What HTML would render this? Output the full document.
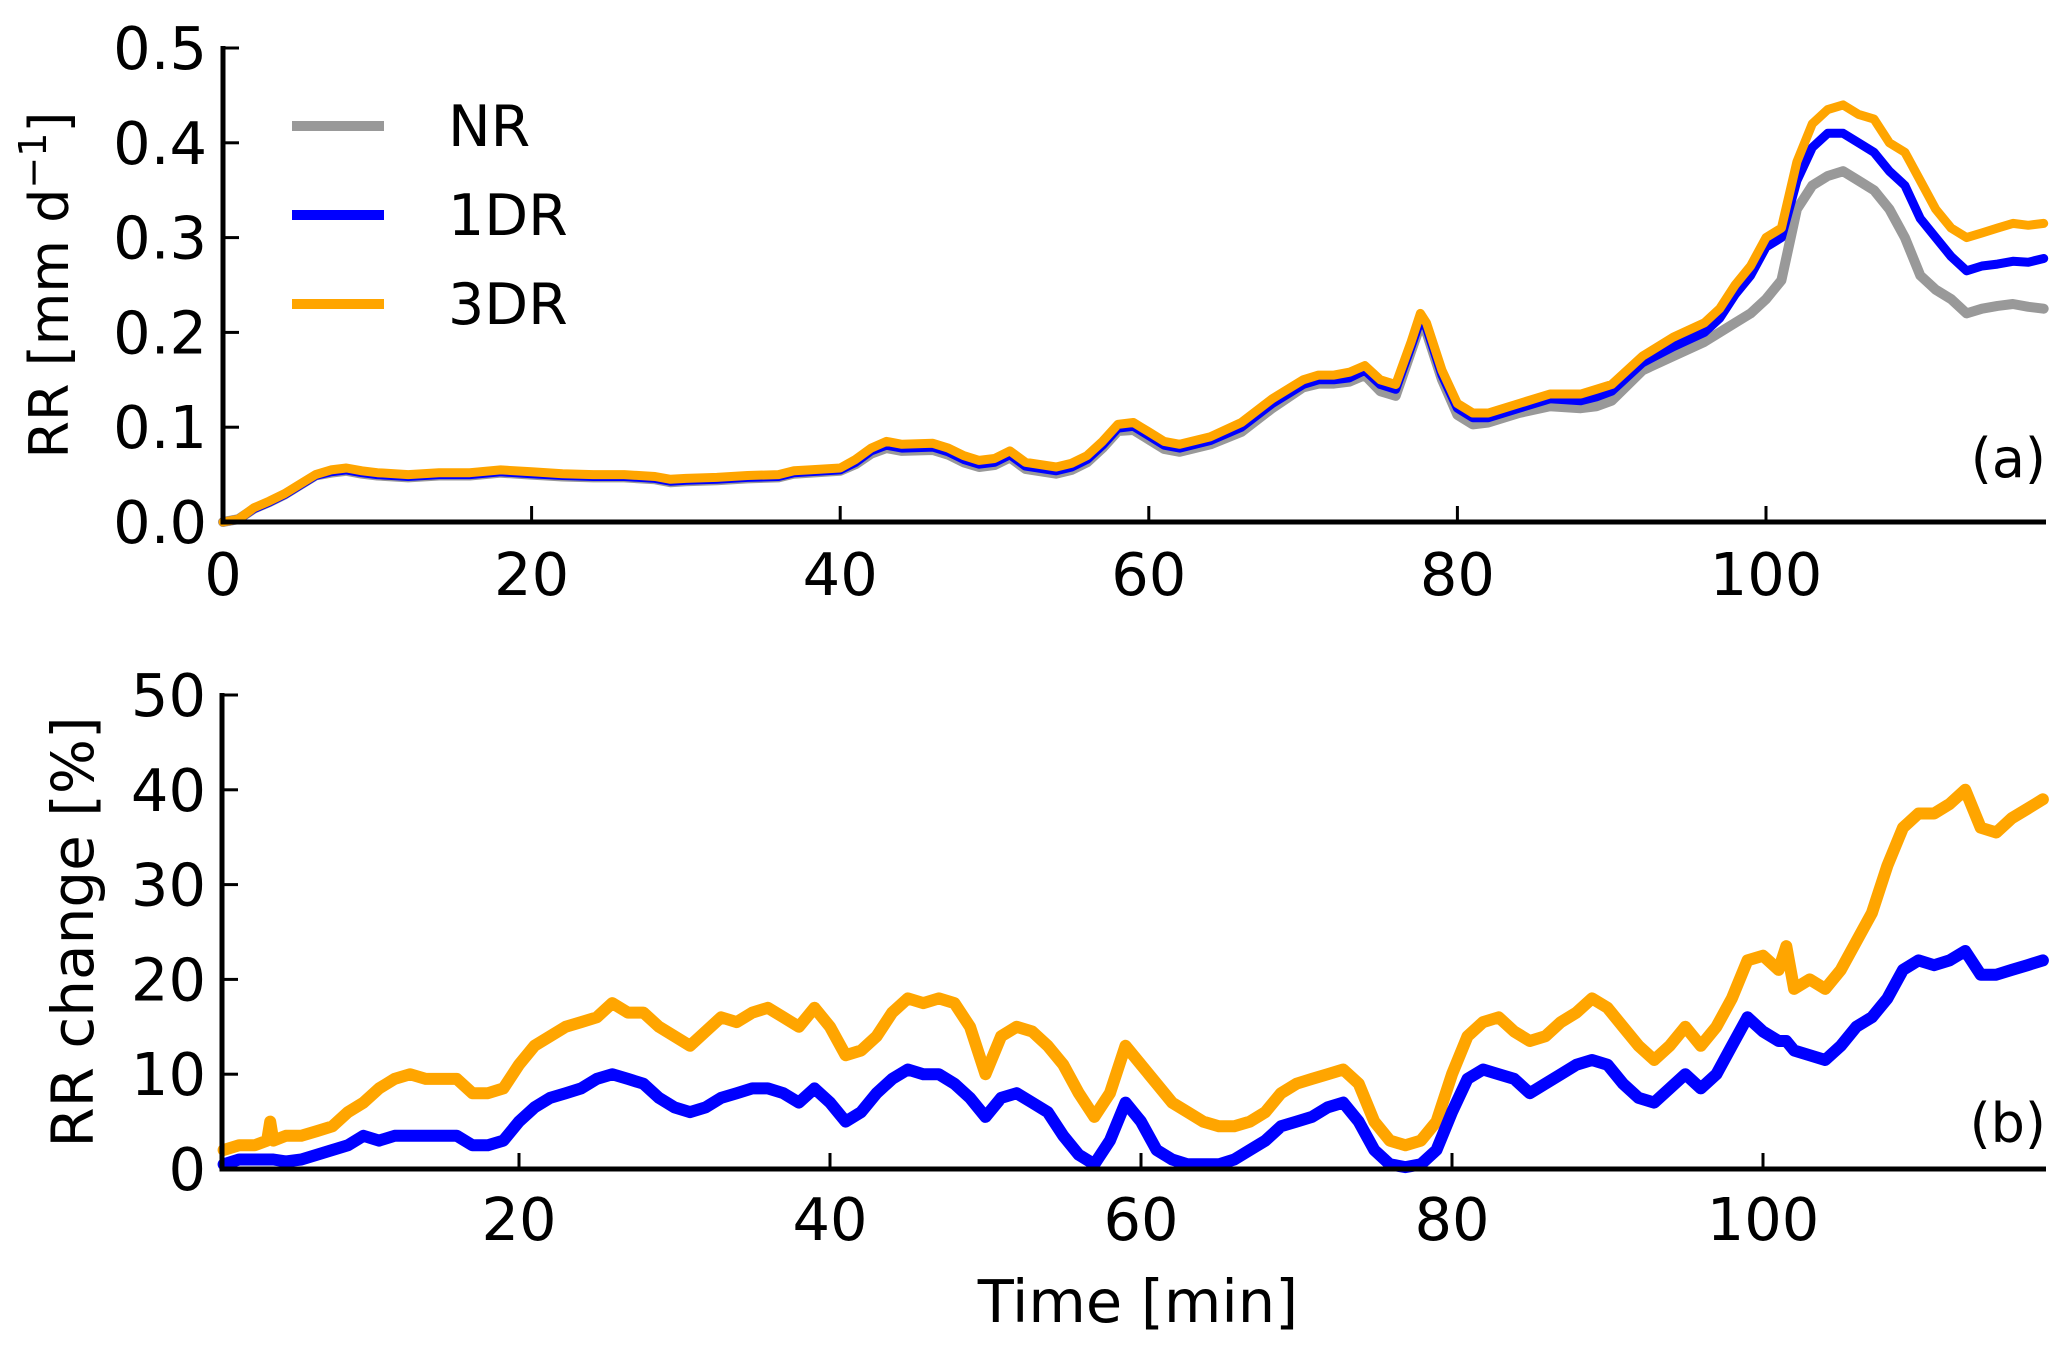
<!DOCTYPE html>
<html><head><meta charset="utf-8"><style>
html,body{margin:0;padding:0;background:#fff;}
svg{display:block;font-family:"DejaVu Sans","Liberation Sans",sans-serif;}
</style></head><body>
<svg id="fig" width="2067" height="1346" viewBox="0 0 2067 1346" xmlns="http://www.w3.org/2000/svg">
<g id="panelTop"></g>
<g id="panelBot"></g>
</svg>
<script>
// ---- Panel (a) data ----
const tA = [0,1,2,3,4,5,6,7,8,9,10,12,14,16,18,20,22,24,26,28,29,30,32,34,36,37,38,40,41,42,43,44,46,47,48,49,50,51,52,54,55,56,57,58,59,60,61,62,64,66,68,70,71,72,73,74,75,76,77,77.6,78,79,80,81,82,84,86,88,89,90,92,94,96,97,98,99,100,101,102,103,104,105,106,107,108,109,110,111,112,113,114,115,116,117,118];
const rr3DR = [0,0.003,0.015,0.022,0.03,0.04,0.05,0.055,0.057,0.054,0.052,0.05,0.052,0.052,0.055,0.053,0.051,0.05,0.05,0.048,0.045,0.046,0.047,0.049,0.05,0.054,0.055,0.057,0.066,0.078,0.085,0.082,0.083,0.078,0.07,0.065,0.067,0.075,0.063,0.058,0.062,0.07,0.085,0.103,0.105,0.095,0.085,0.082,0.09,0.105,0.13,0.15,0.155,0.155,0.158,0.165,0.15,0.145,0.19,0.22,0.21,0.16,0.125,0.115,0.115,0.125,0.135,0.135,0.14,0.145,0.175,0.195,0.21,0.225,0.25,0.27,0.3,0.31,0.38,0.42,0.435,0.44,0.43,0.425,0.4,0.39,0.36,0.33,0.31,0.3,0.305,0.31,0.315,0.313,0.315];
const rr1DR = [0,0.003,0.014,0.021,0.029,0.039,0.049,0.053,0.055,0.052,0.05,0.048,0.05,0.05,0.053,0.051,0.049,0.048,0.048,0.046,0.043,0.044,0.045,0.047,0.048,0.052,0.053,0.055,0.063,0.075,0.081,0.078,0.079,0.074,0.066,0.061,0.063,0.071,0.059,0.054,0.058,0.066,0.081,0.099,0.101,0.091,0.081,0.078,0.086,0.1,0.125,0.145,0.15,0.15,0.152,0.16,0.145,0.14,0.185,0.213,0.205,0.155,0.12,0.11,0.11,0.12,0.13,0.128,0.132,0.138,0.168,0.185,0.2,0.215,0.24,0.26,0.29,0.3,0.36,0.395,0.41,0.41,0.4,0.39,0.37,0.355,0.32,0.3,0.28,0.265,0.27,0.272,0.275,0.274,0.278];
const rrNR = [0,0.003,0.014,0.021,0.029,0.039,0.049,0.052,0.054,0.051,0.049,0.047,0.049,0.049,0.052,0.05,0.048,0.047,0.047,0.045,0.042,0.043,0.044,0.046,0.047,0.051,0.052,0.054,0.061,0.072,0.078,0.075,0.076,0.071,0.063,0.058,0.06,0.068,0.056,0.051,0.055,0.063,0.078,0.096,0.097,0.087,0.077,0.074,0.082,0.095,0.12,0.142,0.146,0.146,0.148,0.155,0.138,0.133,0.18,0.208,0.2,0.15,0.113,0.103,0.105,0.115,0.122,0.12,0.122,0.128,0.16,0.175,0.19,0.2,0.21,0.22,0.235,0.255,0.33,0.355,0.365,0.37,0.36,0.35,0.33,0.3,0.26,0.245,0.235,0.22,0.225,0.228,0.23,0.227,0.225];
const yTicksA = [0.0,0.1,0.2,0.3,0.4,0.5];
const xTicksA = [0,20,40,60,80,100];
// ---- Panel (b) data ----
const tB = [1,2,3,3.8,4,4.2,5,6,7,8,9,10,11,12,13,14,15,16,17,18,19,20,21,22,23,24,25,26,27,28,29,30,31,32,33,34,35,36,37,38,39,40,41,42,43,44,45,46,47,48,49,50,51,52,53,54,55,56,57,58,59,60,61,62,63,64,65,66,67,68,69,70,71,72,73,74,75,76,77,78,79,80,81,82,83,84,85,86,87,88,89,90,91,92,93,94,95,96,97,98,99,100,101,101.5,102,103,104,105,106,107,108,109,110,111,112,113,114,115,116,117,118];
const pct3DR = [2,2.5,2.5,3,5,3,3.5,3.5,4,4.5,6,7,8.5,9.5,10,9.5,9.5,9.5,8,8,8.5,11,13,14,15,15.5,16,17.5,16.5,16.5,15,14,13,14.5,16,15.5,16.5,17,16,15,17,15,12,12.5,14,16.5,18,17.5,18,17.5,15,10,14,15,14.5,13,11,8,5.5,8,13,11,9,7,6,5,4.5,4.5,5,6,8,9,9.5,10,10.5,9,5,3,2.5,3,5,10,14,15.5,16,14.5,13.5,14,15.5,16.5,18,17,15,13,11.5,13,15,13,15,18,22,22.5,21,23.5,19,20,19,21,24,27,32,36,37.5,37.5,38.5,40,36,35.5,37,38,39];
const pct1DR = [0.5,1,1,1,1,1,0.8,1,1.5,2,2.5,3.5,3,3.5,3.5,3.5,3.5,3.5,2.5,2.5,3,5,6.5,7.5,8,8.5,9.5,10,9.5,9,7.5,6.5,6,6.5,7.5,8,8.5,8.5,8,7,8.5,7,5,6,8,9.5,10.5,10,10,9,7.5,5.5,7.5,8,7,6,3.5,1.5,0.5,3,7,5,2,1,0.5,0.5,0.5,1,2,3,4.5,5,5.5,6.5,7,5,2,0.5,0.2,0.5,2,6,9.5,10.5,10,9.5,8,9,10,11,11.5,11,9,7.5,7,8.5,10,8.5,10,13,16,14.5,13.5,13.5,12.5,12,11.5,13,15,16,18,21,22,21.5,22,23,20.5,20.5,21,21.5,22];
const yTicksB = [0,10,20,30,40,50];
const xTicksB = [20,40,60,80,100];

const NS="http://www.w3.org/2000/svg";
function mk(parent,tag,attrs,text){const e=document.createElementNS(NS,tag);for(const k in attrs)e.setAttribute(k,attrs[k]);if(text!==undefined)e.textContent=text;parent.appendChild(e);return e;}
const xA=t=>223+t*15.43, yA=v=>522-v*(474/0.5);
const xB=t=>208+t*15.55, yB=v=>1169-v*(474/50);
const gTop=document.getElementById('panelTop'), gBot=document.getElementById('panelBot');

function series(g,ts,vs,xf,yf,color,w,name){
  const n=Math.min(ts.length,vs.length);
  let d='';
  for(let i=0;i<n;i++){d+=(i?'L':'M')+xf(ts[i]).toFixed(1)+','+yf(vs[i]).toFixed(1);}
  const p=mk(g,'path',{d:d,fill:'none',stroke:color,'stroke-width':w,'stroke-linejoin':'round','stroke-linecap':'round'});
  
  
}
series(gTop,tA,rrNR,xA,yA,'#999999',10,'line-nr');
series(gTop,tA,rr1DR,xA,yA,'#0000ff',9,'line-1dr');
series(gTop,tA,rr3DR,xA,yA,'#ffa500',9,'line-3dr');
series(gBot,tB,pct3DR,xB,yB,'#ffa500',12,'line-3dr-change');
series(gBot,tB,pct1DR,xB,yB,'#0000ff',12,'line-1dr-change');

function axes(g,xf,yf,xt,yt,fmt,x0,x1,base,topY,xlabY,suffix){
  const sp=mk(g,'path',{d:`M${x0},${topY-2}L${x0},${base}L${x1},${base}`,fill:'none',stroke:'#000','stroke-width':5});
  
  
  yt.forEach(v=>{const y=yf(v);
    const tk=mk(g,'line',{x1:x0,x2:x0+16,y1:y,y2:y,stroke:'#000','stroke-width':3});
    
    
    const tl=mk(g,'text',{x:x0-16,y:y+21,'text-anchor':'end','font-size':59},fmt(v));
    
    
  });
  xt.forEach(v=>{const x=xf(v);
    const tk=mk(g,'line',{x1:x,x2:x,y1:base,y2:base-16,stroke:'#000','stroke-width':3});
    
    
    const tl=mk(g,'text',{x:x,y:xlabY,'text-anchor':'middle','font-size':59},String(v));
    
    
  });
}
axes(gTop,xA,yA,xTicksA,yTicksA,v=>v.toFixed(1),223,2046,522,48,595,'a');
axes(gBot,xB,yB,xTicksB,yTicksB,v=>String(v),222,2046,1169,695,1240,'b');

let e;
e=mk(gTop,'text',{transform:'translate(68,285) rotate(-90)','text-anchor':'middle','font-size':54});
e.appendChild(document.createTextNode('RR [mm d'));
mk(e,'tspan',{'baseline-shift':'super','font-size':38},'−1');
e.appendChild(document.createTextNode(']'));


e=mk(gBot,'text',{transform:'translate(93,932) rotate(-90)','text-anchor':'middle','font-size':58},'RR change [%]');


e=mk(gBot,'text',{x:1138,y:1322,'text-anchor':'middle','font-size':59},'Time [min]');


e=mk(gTop,'text',{x:2046,y:477,'text-anchor':'end','font-size':54},'(a)');


e=mk(gBot,'text',{x:2046,y:1142,'text-anchor':'end','font-size':54},'(b)');



const legNames=['NR','1DR','3DR'], legColors=['#999999','#0000ff','#ffa500'];
const lg=mk(gTop,'g',{});


legNames.forEach((n,i)=>{const y=126+i*89;
  const ln=mk(lg,'line',{x1:292,x2:384,y1:y,y2:y,stroke:legColors[i],'stroke-width':10});
  
  
  const tx=mk(lg,'text',{x:448,y:y+20,'font-size':57},n);
  
  
});
</script>
</body></html>
